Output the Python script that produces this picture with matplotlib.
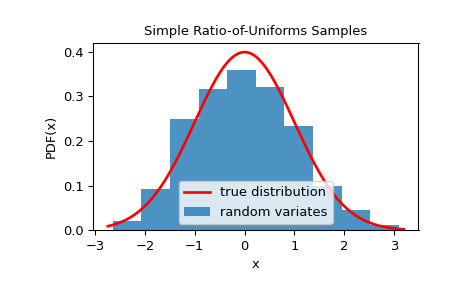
import numpy as np
import matplotlib
matplotlib.use("Agg")
import matplotlib.pyplot as plt

# histogram (density, 10 bins)
bin_edges = np.linspace(-2.64, 3.09, 11)
bin_heights = [0.020, 0.092, 0.250, 0.317, 0.360, 0.320, 0.234, 0.099, 0.045, 0.011]

# range of the true-distribution curve
x_min, x_max = -2.74, 3.19

fs = 9.75
plt.rcParams.update({'font.size': fs, 'axes.titlesize': fs, 'axes.labelsize': fs,
                     'xtick.labelsize': fs, 'ytick.labelsize': fs, 'legend.fontsize': fs})

x = np.linspace(x_min, x_max, 500)
pdf = np.exp(-x ** 2 / 2) / np.sqrt(2 * np.pi)

fig, ax = plt.subplots(figsize=(465 / 96, 3), dpi=96)
fig.subplots_adjust(left=0.2, right=0.9, bottom=0.2, top=0.85)
ax.plot(x, pdf, 'r-', lw=2, label='true distribution')
ax.hist(bin_edges[:-1], bins=bin_edges, weights=bin_heights, alpha=0.8, label='random variates')
ax.set_xlabel('x')
ax.set_ylabel('PDF(x)')
ax.set_title('Simple Ratio-of-Uniforms Samples')
ax.legend(loc='lower center')
fig.savefig('out.png', dpi=96)
